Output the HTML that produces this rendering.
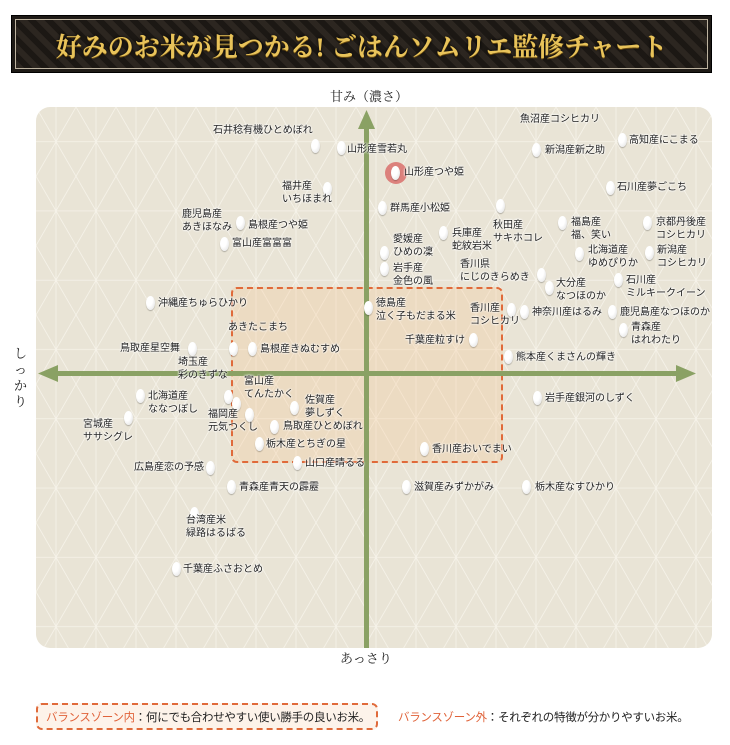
<!DOCTYPE html>
<html><head><meta charset="utf-8"><style>
*{margin:0;padding:0;box-sizing:border-box}
body{width:730px;height:745px;background:#fff;position:relative;overflow:hidden;font-family:"Liberation Sans","Noto Sans CJK JP",sans-serif;}
.banner{position:absolute;left:11px;top:15px;width:701px;height:58px;background:#1e1a16;border:1px solid #000;}
.banner .in{position:absolute;left:3px;top:3px;right:3px;bottom:3px;border:1px solid #bdb3a0;background:repeating-linear-gradient(45deg,#2c2620 0 6px,#1c1814 6px 12px),#241f1a;}
.banner .t{position:absolute;left:0;right:0;top:11px;text-align:center;font-family:"Liberation Serif","Noto Serif CJK SC",serif;font-weight:bold;font-size:26px;color:#e8c35a;text-shadow:0 1px 0 #6b4c10,0 0 3px #000;}
.ax{position:absolute;font-family:"Liberation Serif","Noto Serif CJK SC",serif;font-size:13px;color:#222;}
.panel{position:absolute;left:36px;top:107px;width:676px;height:541px;border-radius:14px;background:#e9e4d6;overflow:hidden}
.zone{position:absolute;border:2px dashed #e06a3a;border-radius:6px;background:rgba(245,200,150,.3)}
.g{position:absolute;width:9px;height:14px;border-radius:50%;background:radial-gradient(ellipse at 35% 30%,#fff 40%,#dcdcdc 100%);box-shadow:0 1px 1px rgba(0,0,0,.25)}
.l{position:absolute;font-size:10px;line-height:13px;color:#222;white-space:nowrap;text-shadow:0 0 2px #fff,0 0 2px #fff,0 0 2px #fff}
.leg{position:absolute;font-size:11.5px;color:#222;white-space:nowrap;letter-spacing:-0.3px}
.o{color:#e0633a}
</style></head><body>
<div class="banner"><div class="in"></div><div class="t">好みのお米が見つかる! ごはんソムリエ監修チャート</div></div>
<div class="ax" style="left:330px;top:86px">甘み（濃さ）</div>
<div class="ax" style="left:340px;top:648px">あっさり</div>
<div class="ax" style="left:14px;top:346px;width:16px;line-height:16px">し<br>っ<br>か<br>り</div>
<div class="ax" style="left:700px;top:346px;width:16px;line-height:16px">も<br>ち<br>も<br>ち</div>
<div class="panel">
<svg width="676" height="541" style="position:absolute;left:0;top:0">
<defs><pattern id="p" width="40" height="69.28" patternUnits="userSpaceOnUse">
<g stroke="#f6f3ea" stroke-width="0.8" fill="none">
<path d="M0 0L40 69.28M40 0L0 69.28M0 34.64H40M20 0V69.28M0 0L20 34.64L40 0M0 69.28L20 34.64L40 69.28"/>
</g></pattern></defs>
<rect width="676" height="541" fill="url(#p)"/>
</svg>
<div class="zone" style="left:195px;top:180px;width:272px;height:176px"></div>
<svg width="676" height="541" style="position:absolute;left:0;top:0">
<rect x="328" y="16" width="5" height="525" fill="#8aa164"/>
<polygon points="330.5,3 322,22 339,22" fill="#8aa164"/>
<rect x="18" y="264" width="630" height="5" fill="#8aa164"/>
<polygon points="2,266.5 22,258 22,275" fill="#8aa164"/>
<polygon points="660,266.5 640,258 640,275" fill="#8aa164"/>
</svg>
</div>
<div style="position:absolute;left:385px;top:162px;width:22px;height:22px;border-radius:50%;background:#d9706c;opacity:.85"></div>
<div id="c"></div>
<div class="leg" style="left:36px;top:703px;width:342px;height:27px;border:2px dashed #e06a3a;border-radius:6px;background:#fdf3ea"></div>
<div class="leg" style="left:46px;top:709px"><span class="o">バランスゾーン内</span>：何にでも合わせやすい使い勝手の良いお米。</div>
<div class="leg" style="left:398px;top:709px"><span class="o">バランスゾーン外</span>：それぞれの特徴が分かりやすいお米。</div>
<script>
var d=[
[311,139,213,124,"石井稔有機ひとめぼれ"],
[337,141,347,143,"山形産雪若丸"],
[0,0,520,113,"魚沼産コシヒカリ"],
[532,143,545,144,"新潟産新之助"],
[618,133,629,134,"高知産にこまる"],
[391,166,404,166,"山形産つや姫"],
[606,181,617,181,"石川産夢ごこち"],
[323,182,282,180,"福井産<br>いちほまれ"],
[236,216,182,208,"鹿児島産<br>あきほなみ"],
[0,0,248,219,"島根産つや姫"],
[378,201,390,202,"群馬産小松姫"],
[496,199,493,219,"秋田産<br>サキホコレ"],
[439,226,452,227,"兵庫産<br>蛇紋岩米"],
[558,216,571,216,"福島産<br>福、笑い"],
[643,216,656,216,"京都丹後産<br>コシヒカリ"],
[220,237,232,237,"富山産富富富"],
[380,246,393,233,"愛媛産<br>ひめの凜"],
[380,262,393,262,"岩手産<br>金色の風"],
[575,247,588,244,"北海道産<br>ゆめぴりか"],
[645,246,657,244,"新潟産<br>コシヒカリ"],
[537,268,460,258,"香川県<br>にじのきらめき"],
[614,273,626,274,"石川産<br>ミルキークイーン"],
[545,281,556,277,"大分産<br>なつほのか"],
[146,296,158,297,"沖縄産ちゅらひかり"],
[364,301,376,297,"徳島産<br>泣く子もだまる米"],
[507,303,470,302,"香川産<br>コシヒカリ"],
[520,305,532,306,"神奈川産はるみ"],
[608,305,620,306,"鹿児島産なつほのか"],
[0,0,228,321,"あきたこまち"],
[619,323,631,321,"青森産<br>はれわたり"],
[469,333,405,334,"千葉産粒すけ"],
[188,342,120,342,"鳥取産星空舞"],
[229,342,0,0,""],
[248,342,260,343,"島根産きぬむすめ"],
[0,0,178,356,"埼玉産<br>彩のきずな"],
[504,350,516,351,"熊本産くまさんの輝き"],
[224,390,244,375,"富山産<br>てんたかく"],
[136,389,148,390,"北海道産<br>ななつぼし"],
[533,391,545,392,"岩手産銀河のしずく"],
[290,401,305,394,"佐賀産<br>夢しずく"],
[232,397,0,0,""],
[245,408,208,408,"福岡産<br>元気つくし"],
[124,411,83,418,"宮城産<br>ササシグレ"],
[270,420,283,420,"鳥取産ひとめぼれ"],
[255,437,266,438,"栃木産とちぎの星"],
[420,442,432,443,"香川産おいでまい"],
[206,461,134,461,"広島産恋の予感"],
[293,456,305,457,"山口産晴るる"],
[227,480,239,481,"青森産青天の霹靂"],
[402,480,414,481,"滋賀産みずかがみ"],
[522,480,535,481,"栃木産なすひかり"],
[190,507,186,514,"台湾産米<br>緑路はるばる"],
[172,562,183,563,"千葉産ふさおとめ"]
];
var h="";d.forEach(function(a){if(a[0])h+='<div class="g" style="left:'+a[0]+'px;top:'+a[1]+'px"></div>';if(a[4])h+='<div class="l" style="left:'+a[2]+'px;top:'+a[3]+'px">'+a[4]+'</div>';});
document.getElementById("c").innerHTML=h;
</script>
</body></html>
